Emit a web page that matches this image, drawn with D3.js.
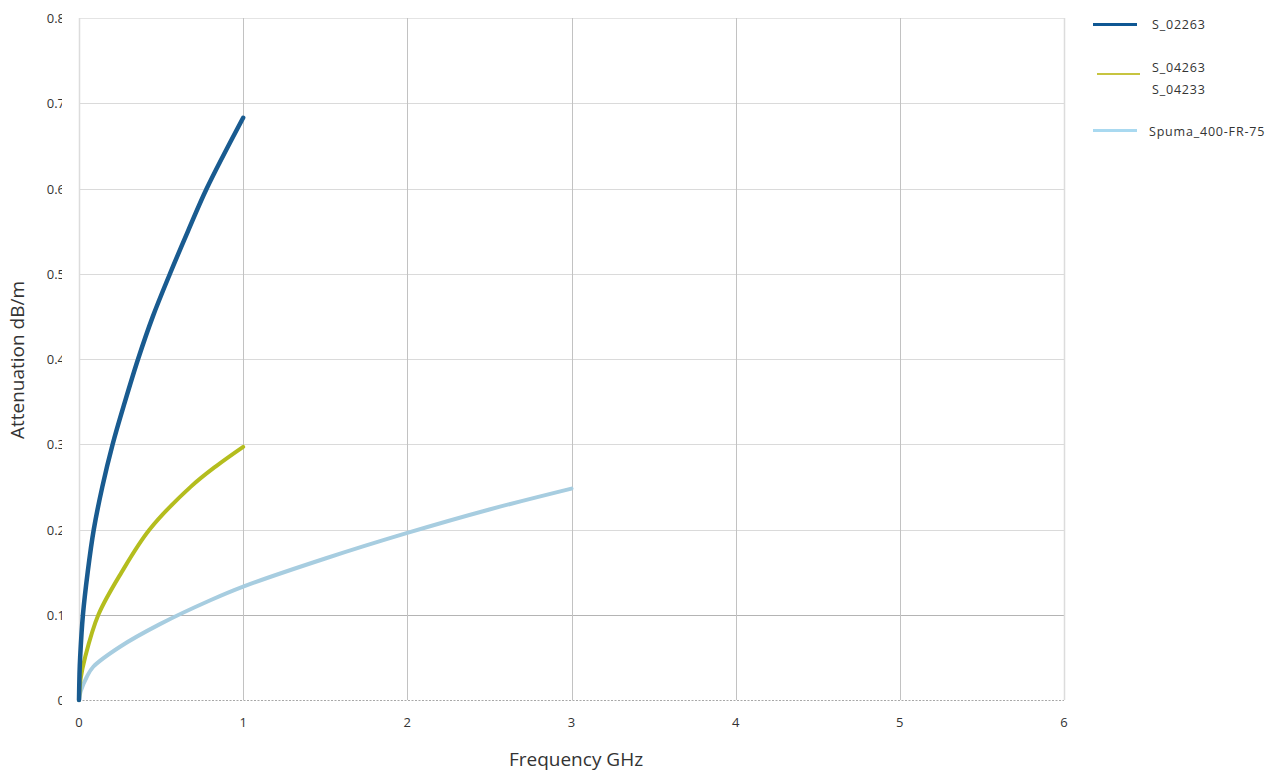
<!DOCTYPE html>
<html>
<head>
<meta charset="utf-8">
<script src="https://cdn.jsdelivr.net/npm/d3@7"></script>
<style>
  html, body { margin: 0; padding: 0; background: #fff; }
  svg { display: block; font-family: "Open Sans", "Noto Sans", sans-serif; }
</style>
</head>
<body>
<svg id="chart" width="1281" height="772"></svg>
<script>
// Attenuation curves (frequency in GHz, attenuation in dB/m)
const freqS02263 = [0, 0.003, 0.007, 0.024, 0.053, 0.09, 0.142, 0.205, 0.28, 0.36, 0.45, 0.554, 0.664, 0.778, 1.0];
const attS02263  = [0, 0.03, 0.05, 0.1, 0.15, 0.2, 0.25, 0.3, 0.35, 0.4, 0.45, 0.5, 0.55, 0.6, 0.683];

const freqS04263 = [0, 0.01, 0.037, 0.118, 0.26, 0.43, 0.68, 0.84, 1.0];
const attS04263  = [0, 0.025, 0.05, 0.1, 0.15, 0.2, 0.25, 0.275, 0.297];

const freqSpuma = [0, 0.01, 0.047, 0.087, 0.25, 0.493, 0.8, 1.0, 1.5, 2.0, 2.5, 3.0];
const attSpuma  = [0, 0.01, 0.027, 0.039, 0.0625, 0.089, 0.117, 0.133, 0.166, 0.196, 0.2235, 0.248];

const xTicks = [0, 1, 2, 3, 4, 5, 6];
const yTicks = [0, 0.1, 0.2, 0.3, 0.4, 0.5, 0.6, 0.7, 0.8];

const seriesNames = ["S_02263", ["S_04263", "S_04233"], "Spuma_400-FR-75"];

const series = [
  { f: freqS02263, a: attS02263, color: "#195b90", width: 4.5 },
  { f: freqS04263, a: attS04263, color: "#b4bd1e", width: 4 },
  { f: freqSpuma,  a: attSpuma,  color: "#a7cde0", width: 4 }
];

const svg = d3.select("#chart");
const plotLeft = 79, plotRight = 1064, plotTop = 18, plotBottom = 700;

const x = d3.scaleLinear().domain([0, 6]).range([plotLeft, plotRight]);
const y = d3.scaleLinear().domain([0, 0.8]).range([plotBottom, plotTop]);

// Grid: horizontal lines
svg.append("g").selectAll("line")
  .data(yTicks.filter(v => v > 0))
  .join("line")
  .attr("x1", plotLeft).attr("x2", plotRight)
  .attr("y1", d => Math.round(y(d)) + 0.5).attr("y2", d => Math.round(y(d)) + 0.5)
  .attr("stroke", d => d === 0.1 ? "#b4b4b4" : (d === 0.8 ? "#e4e4e4" : "#dadada"))
  .attr("stroke-width", 1);

// Grid: vertical lines
svg.append("g").selectAll("line")
  .data(xTicks)
  .join("line")
  .attr("x1", d => Math.round(x(d)) + 0.5).attr("x2", d => Math.round(x(d)) + 0.5)
  .attr("y1", plotTop).attr("y2", plotBottom)
  .attr("stroke", d => (d === 0 || d === 6) ? "#dcdcdc" : "#c2c2c2")
  .attr("stroke-width", d => (d === 0 || d === 6) ? 1.5 : 1);

// Baseline (dotted)
svg.append("line")
  .attr("x1", plotLeft).attr("x2", plotRight)
  .attr("y1", plotBottom + 0.5).attr("y2", plotBottom + 0.5)
  .attr("stroke", "#a8a8a8")
  .attr("stroke-dasharray", "2,1.5")
  .attr("stroke-width", 1);

// Y tick labels (clipped at the plot edge)
svg.append("clipPath").attr("id", "yclip")
  .append("rect").attr("x", 0).attr("y", 0).attr("width", 62).attr("height", 772);

svg.append("g").attr("clip-path", "url(#yclip)")
  .selectAll("text")
  .data(yTicks)
  .join("text")
  .attr("x", 65)
  .attr("y", d => y(d) + 5)
  .attr("text-anchor", "end")
  .attr("font-size", 13)
  .attr("fill", "#333")
  .text(d => d === 0 ? "0" : d3.format(".1f")(d));

// X tick labels
svg.append("g").selectAll("text")
  .data(xTicks)
  .join("text")
  .attr("x", d => x(d))
  .attr("y", 727)
  .attr("text-anchor", "middle")
  .attr("font-size", 13)
  .attr("fill", "#333")
  .text(d => d);

// Axis titles
svg.append("text")
  .attr("x", 576).attr("y", 766)
  .attr("text-anchor", "middle")
  .attr("font-size", 19)
  .attr("fill", "#333")
  .text("Frequency GHz");

svg.append("text")
  .attr("transform", "translate(24,360) rotate(-90)")
  .attr("text-anchor", "middle")
  .attr("font-size", 19)
  .attr("fill", "#333")
  .text("Attenuation dB/m");

// Curves
const line = d3.line()
  .x(d => x(d[0]))
  .y(d => y(d[1]))
  .curve(d3.curveCatmullRom.alpha(0.5));

series.slice().reverse().forEach(s => {
  const pts = s.f.map((f, i) => [f, s.a[i]]);
  svg.append("path")
    .attr("d", line(pts))
    .attr("fill", "none")
    .attr("stroke", s.color)
    .attr("stroke-width", s.width)
    .attr("stroke-linecap", "round")
    .attr("stroke-linejoin", "round");
});

// Legend
const legend = svg.append("g").attr("font-size", 12.5).attr("fill", "#333").attr("letter-spacing", 0.8);

legend.append("line").attr("x1", 1093).attr("x2", 1137).attr("y1", 24.5).attr("y2", 24.5)
  .attr("stroke", "#0f5793").attr("stroke-width", 3);
legend.append("text").attr("x", 1152).attr("y", 29).text(seriesNames[0]);

legend.append("line").attr("x1", 1097).attr("x2", 1140).attr("y1", 74).attr("y2", 74)
  .attr("stroke", "#b5b000").attr("stroke-width", 1.5);
legend.append("text").attr("x", 1152).attr("y", 72).text(seriesNames[1][0]);
legend.append("text").attr("x", 1152).attr("y", 94).text(seriesNames[1][1]);

legend.append("line").attr("x1", 1093).attr("x2", 1137).attr("y1", 130.5).attr("y2", 130.5)
  .attr("stroke", "#a9d9f0").attr("stroke-width", 3);
legend.append("text").attr("x", 1149).attr("y", 136).text(seriesNames[2]);
</script>
</body>
</html>
